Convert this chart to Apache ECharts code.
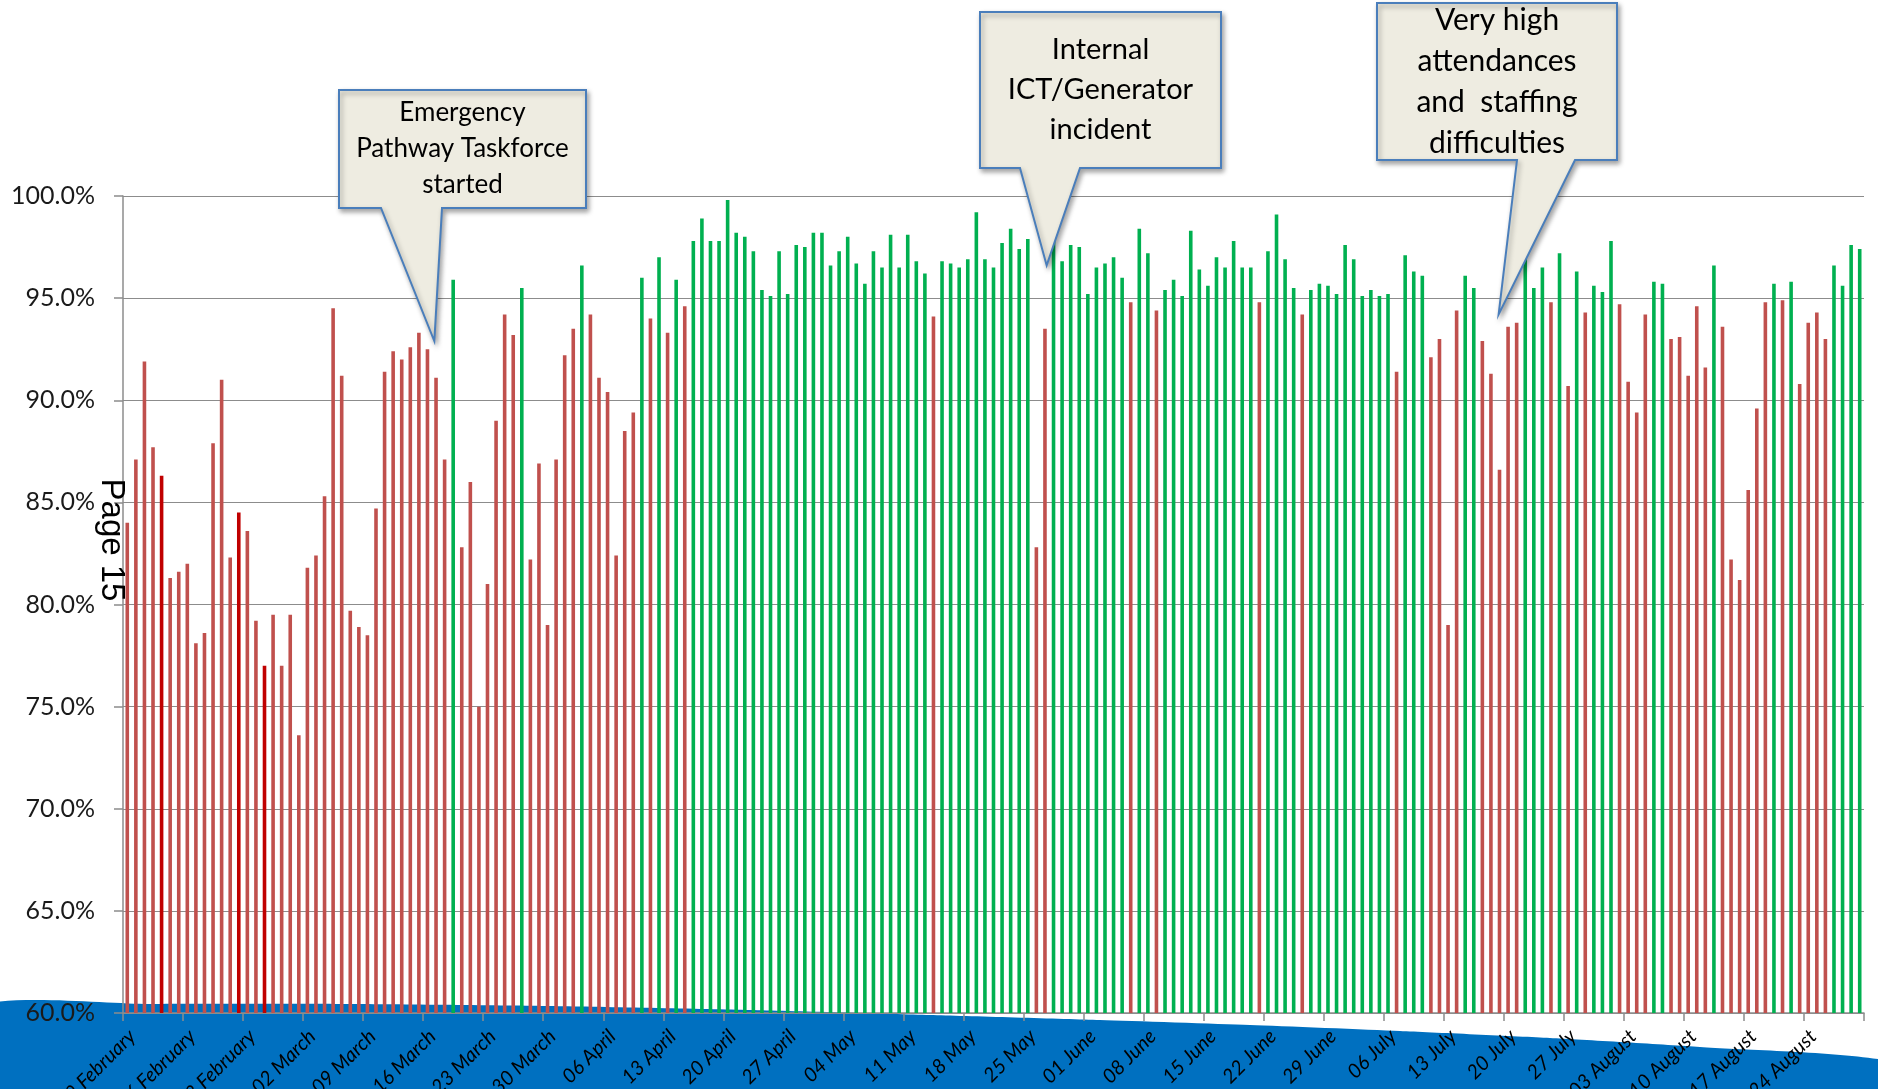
<!DOCTYPE html>
<html>
<head>
<meta charset="utf-8">
<title>Daily 4-hour performance</title>
<script src="https://cdn.jsdelivr.net/npm/echarts@6/dist/echarts.min.js"></script>
<style>
  html, body { margin: 0; padding: 0; background: #ffffff; }
  #chart { width: 1878px; height: 1089px; }
</style>
</head>
<body>
<div id="chart"></div>
<script>
// Week-commencing labels shown under the axis (one per Monday)
const weekLabels = [
  '09 February', '16 February', '23 February', '02 March', '09 March', '16 March',
  '23 March', '30 March', '06 April', '13 April', '20 April', '27 April', '04 May',
  '11 May', '18 May', '25 May', '01 June', '08 June', '15 June', '22 June', '29 June',
  '06 July', '13 July', '20 July', '27 July', '03 August', '10 August', '17 August',
  '24 August'
];

// First day of the series
const startDate = '2015-02-09';

// Daily percentage seen within 4 hours, one row per week (Mon..Sun)
const dailyPct = [
  84.0, 87.1, 91.9, 87.7, 86.3, 81.3, 81.6,
  82.0, 78.1, 78.6, 87.9, 91.0, 82.3, 84.5,
  83.6, 79.2, 77.0, 79.5, 77.0, 79.5, 73.6,
  81.8, 82.4, 85.3, 94.5, 91.2, 79.7, 78.9,
  78.5, 84.7, 91.4, 92.4, 92.0, 92.6, 93.3,
  92.5, 91.1, 87.1, 95.9, 82.8, 86.0, 75.0,
  81.0, 89.0, 94.2, 93.2, 95.5, 82.2, 86.9,
  79.0, 87.1, 92.2, 93.5, 96.6, 94.2, 91.1,
  90.4, 82.4, 88.5, 89.4, 96.0, 94.0, 97.0,
  93.3, 95.9, 94.6, 97.8, 98.9, 97.8, 97.8,
  99.8, 98.2, 98.0, 97.3, 95.4, 95.1, 97.3,
  95.2, 97.6, 97.5, 98.2, 98.2, 96.6, 97.3,
  98.0, 96.7, 95.7, 97.3, 96.5, 98.1, 96.5,
  98.1, 96.8, 96.2, 94.1, 96.8, 96.7, 96.5,
  96.9, 99.2, 96.9, 96.5, 97.7, 98.4, 97.4,
  97.9, 82.8, 93.5, 98.0, 96.8, 97.6, 97.5,
  95.2, 96.5, 96.7, 97.0, 96.0, 94.8, 98.4,
  97.2, 94.4, 95.4, 95.9, 95.1, 98.3, 96.4,
  95.6, 97.0, 96.5, 97.8, 96.5, 96.5, 94.8,
  97.3, 99.1, 96.9, 95.5, 94.2, 95.4, 95.7,
  95.6, 95.2, 97.6, 96.9, 95.1, 95.4, 95.1,
  95.2, 91.4, 97.1, 96.3, 96.1, 92.1, 93.0,
  79.0, 94.4, 96.1, 95.5, 92.9, 91.3, 86.6,
  93.6, 93.8, 97.0, 95.5, 96.5, 94.8, 97.2,
  90.7, 96.3, 94.3, 95.6, 95.3, 97.8, 94.7,
  90.9, 89.4, 94.2, 95.8, 95.7, 93.0, 93.1,
  91.2, 94.6, 91.6, 96.6, 93.6, 82.2, 81.2,
  85.6, 89.6, 94.8, 95.7, 94.9, 95.8, 90.8,
  93.8, 94.3, 93.0, 96.6, 95.6, 97.6, 97.4
];

// Days drawn in the deeper red
const darkRedDays = [4, 13, 16];

// Standard that splits the green days from the red ones
const target = 95;

// Y axis range and step
const yMin = 60, yMax = 100, yStep = 5;

// Notes placed over the chart: text, the day/value the pointer touches
const notes = [
  { lines: ['Emergency', 'Pathway Taskforce', 'started'], day: 36.3, value: 92.9 },
  { lines: ['Internal', 'ICT/Generator', 'incident'], day: 107.7, value: 96.6 },
  { lines: ['Very high', 'attendances', 'and  staffing', 'difficulties'], day: 160.4, value: 94.2 }
];

const RED = '#C0504D', DARK_RED = '#C00000', GREEN = '#00B050';
const GRID = '#8C8C8C';

// one category per calendar day
const days = dailyPct.map(function (_, i) {
  const d = new Date(startDate + 'T00:00:00Z');
  d.setUTCDate(d.getUTCDate() + i);
  return d.toISOString().slice(0, 10);
});

const chart = echarts.init(document.getElementById('chart'), null, { renderer: 'canvas' });

const option = {
  animation: false,
  backgroundColor: '#ffffff',
  grid: {
    left: 123, right: 14, top: 196, bottom: 76,
    containLabel: false,
    outerBoundsMode: 'none'
  },
  xAxis: [
    {
      type: 'category',
      data: days,
      boundaryGap: true,
      axisLine: { show: true, lineStyle: { color: GRID, width: 1.5 } },
      axisTick: { show: false },
      axisLabel: { show: false },
      splitLine: { show: false }
    },
    {
      // week scale used for ticks and labels at the Monday boundaries
      type: 'value',
      position: 'bottom',
      min: 0,
      max: days.length,
      interval: 7,
      axisLine: { show: false },
      axisTick: { show: true, length: 8, lineStyle: { color: GRID, width: 1.5 } },
      splitLine: { show: false },
      axisLabel: {
        show: true,
        rotate: 45,
        margin: 11,
        align: 'right',
        verticalAlign: 'top',
        padding: [3, 0, 0, 0],
        color: '#000000',
        fontFamily: 'Lato',
        fontStyle: 'italic',
        fontSize: 20,
        showMinLabel: true,
        showMaxLabel: true,
        hideOverlap: false,
        formatter: function (v) {
          const k = Math.round(v / 7);
          return weekLabels[k] || '';
        }
      }
    }
  ],
  yAxis: {
    type: 'value',
    min: yMin,
    max: yMax,
    interval: yStep,
    axisLine: { show: true, lineStyle: { color: GRID, width: 1.5 } },
    axisTick: { show: true, length: 9, lineStyle: { color: GRID, width: 1.5 } },
    splitLine: { show: true, lineStyle: { color: GRID, width: 1.2 } },
    axisLabel: {
      margin: 28,
      color: '#1a1a1a',
      fontFamily: 'Lato',
      fontSize: 25,
      formatter: function (v) { return v.toFixed(1) + '%'; }
    }
  },
  series: [
    {
      type: 'bar',
      xAxisIndex: 0,
      yAxisIndex: 0,
      data: dailyPct,
      barWidth: 3.6,
      z: 3,
      itemStyle: {
        color: function (p) {
          if (darkRedDays.indexOf(p.dataIndex) >= 0) return DARK_RED;
          return p.value >= target ? GREEN : RED;
        }
      }
    }
  ]
};

chart.setOption(option);

// Blue swoosh along the foot of the page, behind the chart
const swooshEdge = [
  [-20, 1007], [150, 1004], [350, 1004], [550, 1006], [750, 1010], [930, 1015],
  [1100, 1020], [1250, 1025], [1400, 1031], [1550, 1038], [1700, 1047], [1900, 1064]
];

const graphics = [
  {
    type: 'polygon',
    z: -10,
    shape: {
      points: swooshEdge.concat([[1900, 1120], [-20, 1120]]),
      smooth: 0.2
    },
    style: { fill: '#0070C0' },
    silent: true
  },
  {
    type: 'text',
    x: 111,
    y: 540,
    rotation: -Math.PI / 2,
    z: 50,
    style: {
      text: 'Page 15',
      fill: '#000000',
      font: '33px "Liberation Sans", Arial, sans-serif',
      align: 'center',
      verticalAlign: 'middle'
    }
  }
];

// Callout boxes: box rectangle [x0, y0, x1, y1], pointer base x-range, text style
const boxes = [
  { rect: [339, 90, 586, 208], base: [381, 442], fontSize: 26, lineHeight: 36 },
  { rect: [980, 12, 1221, 168], base: [1020, 1080], fontSize: 29, lineHeight: 40 },
  { rect: [1377, 3, 1617, 160], base: [1517, 1575], fontSize: 30, lineHeight: 41 }
];

notes.forEach(function (n, i) {
  const b = boxes[i];
  const tip = chart.convertToPixel({ xAxisIndex: 1, yAxisIndex: 0 }, [n.day, n.value]);
  const r = b.rect;
  graphics.push({
    type: 'polygon',
    z: 100,
    shape: {
      points: [
        [r[0], r[1]], [r[2], r[1]], [r[2], r[3]],
        [b.base[1], r[3]], tip, [b.base[0], r[3]],
        [r[0], r[3]]
      ]
    },
    style: {
      fill: '#EEECE1',
      stroke: '#4A7EBB',
      lineWidth: 2,
      shadowBlur: 5,
      shadowOffsetX: 2,
      shadowOffsetY: 3,
      shadowColor: 'rgba(0,0,0,0.35)'
    }
  });
  graphics.push({
    type: 'text',
    z: 101,
    x: (r[0] + r[2]) / 2,
    y: (r[1] + r[3]) / 2,
    style: {
      text: n.lines.join('\n'),
      fill: '#000000',
      font: b.fontSize + 'px Lato, "Open Sans", sans-serif',
      lineHeight: b.lineHeight,
      align: 'center',
      verticalAlign: 'middle'
    }
  });
});

chart.setOption({ graphic: { elements: graphics } });
</script>
</body>
</html>
